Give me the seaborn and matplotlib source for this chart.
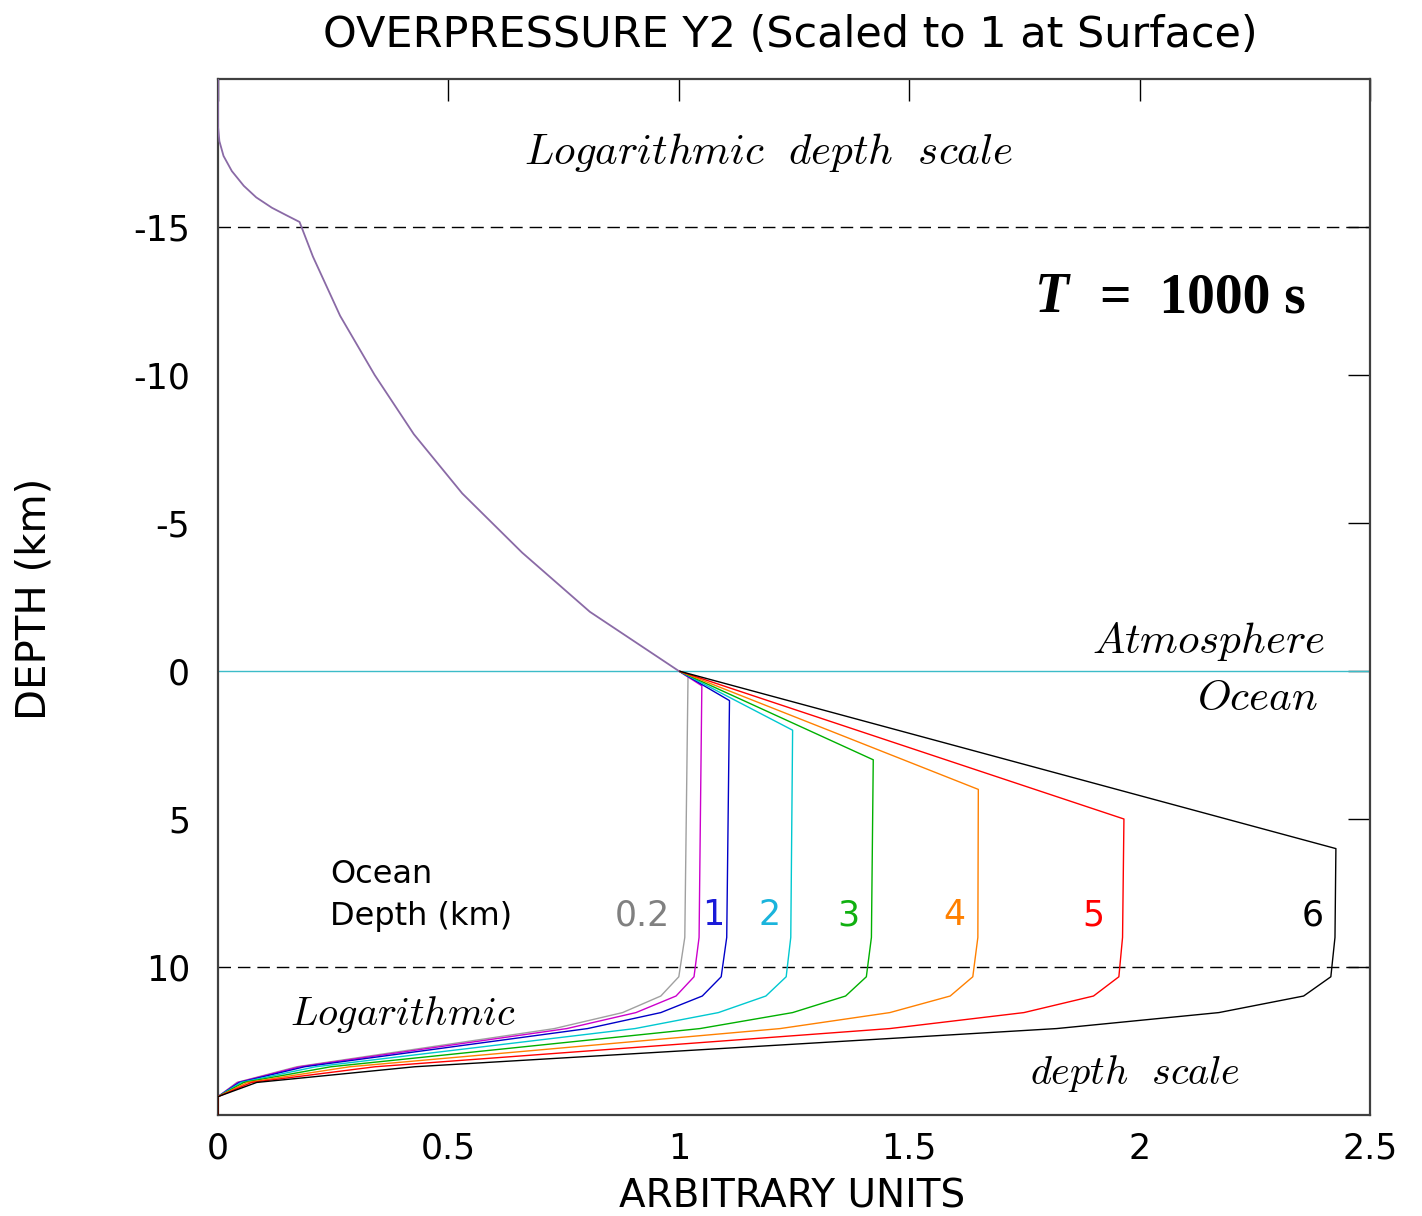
import numpy as np
import pandas as pd
import matplotlib
matplotlib.use("Agg")
import matplotlib.pyplot as plt
import seaborn as sns

# ---------------- data ----------------
# shared atmosphere branch (plot depth coordinate, value)
atm_depth = [-20.0, -18.4, -17.9, -17.4, -16.89, -16.39, -16.0, -15.65, -15.4, -15.17,
             -14.0, -12.0, -10.0, -8.0, -6.0, -4.0, -2.0, 0.0]
atm_value = [0.0, 0.0, 0.003, 0.012, 0.030, 0.056, 0.083, 0.117, 0.148, 0.177,
             0.206, 0.265, 0.340, 0.425, 0.530, 0.660, 0.807, 1.0]

# ocean branches
ocean_depths = [0.2, 0.5, 1, 2, 3, 4, 5, 6]
deep_levels = [9.0, 10.33, 10.98, 11.54, 12.08, 13.37, 13.9, 14.38, 15.0]
val_d02 = [1.0, 1.020, 1.013, 1.000, 0.961, 0.878, 0.730, 0.171, 0.041, 0.0, 0.0]
val_d05 = [1.0, 1.050, 1.044, 1.033, 0.994, 0.907, 0.757, 0.177, 0.043, 0.0, 0.0]
val_d1 = [1.0, 1.110, 1.104, 1.092, 1.051, 0.961, 0.802, 0.188, 0.046, 0.0, 0.0]
val_d2 = [1.0, 1.247, 1.243, 1.233, 1.189, 1.086, 0.905, 0.212, 0.050, 0.0, 0.0]
val_d3 = [1.0, 1.422, 1.418, 1.407, 1.362, 1.247, 1.046, 0.245, 0.056, 0.0, 0.0]
val_d4 = [1.0, 1.650, 1.649, 1.638, 1.589, 1.458, 1.220, 0.286, 0.064, 0.0, 0.0]
val_d5 = [1.0, 1.966, 1.963, 1.955, 1.900, 1.749, 1.458, 0.341, 0.073, 0.0, 0.0]
val_d6 = [1.0, 2.426, 2.424, 2.415, 2.356, 2.172, 1.820, 0.427, 0.084, 0.0, 0.0]
ocean_values = [val_d02, val_d05, val_d1, val_d2, val_d3, val_d4, val_d5, val_d6]
curve_colors = ["#a0a0a0", "#cc00cc", "#0000c8", "#00c8d0", "#00b000", "#ff8000", "#ff0000", "#000000"]

depth_labels = ["0.2", "1", "2", "3", "4", "5", "6"]
label_colors = ["#808080", "#1a1ad8", "#1ab4dc", "#10b010", "#ff8000", "#ff0000", "#000000"]

x_ticks = [0, 0.5, 1, 1.5, 2, 2.5]
x_ticklabels = ["0", "0.5", "1", "1.5", "2", "2.5"]
y_ticks = [-15, -10, -5, 0, 5, 10]
y_ticklabels = ["-15", "-10", "-5", "0", "5", "10"]

# ---------------- build long-form table ----------------
rows = []
for d, vals in zip(ocean_depths, ocean_values):
    ys = [0.0, d] + deep_levels
    for i, (xv, yv) in enumerate(zip(vals, ys)):
        rows.append({"curve": str(d), "x": xv, "y": yv, "order": i})
df = pd.DataFrame(rows)
atm_df = pd.DataFrame({"x": atm_value, "y": atm_depth})

# ---------------- figure ----------------
sns.set_style("white")
plt.rcParams["font.family"] = ["DejaVu Sans"]
plt.rcParams["mathtext.fontset"] = "cm"
plt.rcParams["text.color"] = "black"
plt.rcParams["axes.labelcolor"] = "black"

fig = plt.figure(figsize=(14.22, 12.16), dpi=100)
ax = fig.add_axes([218 / 1422, 1 - 1115 / 1216, (1370 - 218) / 1422, (1115 - 79) / 1216])

# reference lines
ax.axhline(0, color="#3cbcc8", lw=1.0, zorder=1)
ax.axhline(-15, color="black", lw=1.0, ls=(0, (9, 5)), zorder=1)
ax.axhline(10, color="black", lw=1.0, ls=(0, (9, 5)), zorder=1)

palette = dict(zip([str(d) for d in ocean_depths], curve_colors))
sns.lineplot(data=df, x="x", y="y", hue="curve", palette=palette, sort=False,
             estimator=None, units="curve", lw=1.0, legend=False, ax=ax, zorder=3)
sns.lineplot(data=atm_df, x="x", y="y", sort=False, estimator=None,
             color="#8a6aa6", lw=1.3, legend=False, ax=ax, zorder=4)

ax.set_xlim(0, 2.5)
ax.set_ylim(15, -20)
ax.set_xticks(x_ticks)
ax.set_xticklabels(x_ticklabels)
ax.set_yticks(y_ticks)
ax.set_yticklabels(y_ticklabels)
ax.tick_params(direction="in", length=16, width=1.0, top=True, right=True,
               labelsize=25, colors="black")
ax.tick_params(axis="x", pad=12)
ax.tick_params(axis="y", pad=20)
for s in ax.spines.values():
    s.set_color("#404040")
    s.set_linewidth(1.6)

ax.set_xlabel("ARBITRARY UNITS", fontsize=28)
ax.set_ylabel("DEPTH (km)", fontsize=29)
ax.xaxis.set_label_coords(0.498, -0.060)
ax.yaxis.set_label_coords(-0.1415, 0.498)
fig.text(790 / 1422, 1 - 35 / 1216, "OVERPRESSURE Y2 (Scaled to 1 at Surface)",
         ha="center", va="center", fontsize=31)

# annotations
ax.text(1.194, -17.5, r"$Logarithmic\ \ depth\ \ scale$", ha="center", va="center", fontsize=31)
ax.text(2.402, -1.0, r"$Atmosphere$", ha="right", va="center", fontsize=31)
ax.text(2.387, 0.9, r"$Ocean$", ha="right", va="center", fontsize=31)
ax.text(0.401, 11.6, r"$Logarithmic$", ha="center", va="center", fontsize=29)
ax.text(1.99, 13.6, r"$depth\ \ scale$", ha="center", va="center", fontsize=29)

ax.text(1.773, -12.6, "T", ha="left", va="center", fontsize=40,
        family="Liberation Serif", weight="bold", style="italic")
ax.text(1.914, -12.6, "=  1000 s", ha="left", va="center", fontsize=40,
        family="Liberation Serif", weight="bold")

ax.text(0.243, 6.86, "Ocean", ha="left", va="center", fontsize=23)
ax.text(0.243, 8.31, "Depth (km)", ha="left", va="center", fontsize=23)
label_x = [0.922, 1.074, 1.198, 1.367, 1.599, 1.899, 2.376]
for lab, col, lx in zip(depth_labels, label_colors, label_x):
    ax.text(lx, 8.25, lab, color=col, ha="center", va="center", fontsize=25)

fig.savefig("out.png", dpi=100)
